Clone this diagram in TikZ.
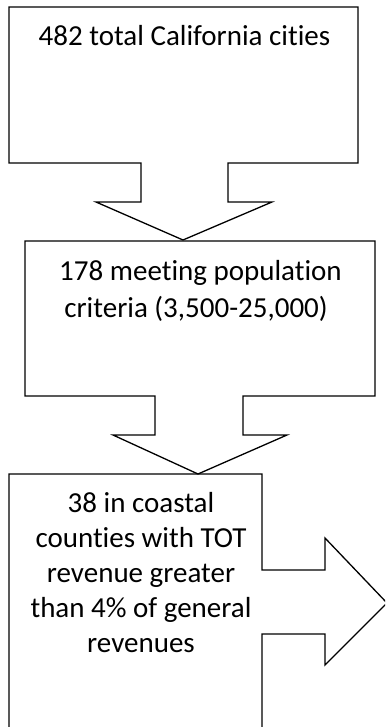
\documentclass[tikz,border=0pt]{standalone}
\usepackage{fontspec}
\setmainfont[Ligatures=CommonOff]{Carlito}
\begin{document}
\begin{tikzpicture}[x=1pt,y=-1pt,
  outline/.style={draw=black,line width=1.3pt,line join=miter},
  lbl/.style={anchor=base,inner sep=0pt,font=\fontsize{29}{35}\selectfont}]
\useasboundingbox (0,0) rectangle (385,727);
\clip (0,0) rectangle (385,727);
\fill[white] (0,0) rectangle (385,727);
% box 1 with down arrow
\draw[outline] (9,7) -- (358,7) -- (358,163) -- (228,163) -- (228,202) -- (272,202)
  -- (183,240) -- (96,202) -- (141,202) -- (141,163) -- (9,163) -- cycle;
% box 2 with down arrow
\draw[outline] (25,241) -- (375,241) -- (375,396) -- (243,396) -- (243,435) -- (287,435)
  -- (198,474) -- (113,435) -- (155,435) -- (155,396) -- (25,396) -- cycle;
% box 3 with right arrow
\draw[outline] (9,474) -- (262,474) -- (262,570) -- (325,570) -- (325,538) -- (387,603)
  -- (325,665) -- (325,634) -- (262,634) -- (262,745) -- (9,745) -- cycle;
% texts
\node[lbl] (t1) at (184.5,46) {482 total California cities};
\node[lbl] (t2a) at (200.5,280) {178 meeting population};
\node[lbl] (t2b) at (196,317) {criteria (3,500-25,000)};
\node[lbl] (t3a) at (141,512) {38 in coastal};
\node[lbl] (t3b) at (141,547) {counties with TOT};
\node[lbl] (t3c) at (141,582) {revenue greater};
\node[lbl] (t3d) at (141,617) {than 4\% of general};
\node[lbl] (t3e) at (141,652) {revenues};
\end{tikzpicture}
\end{document}
